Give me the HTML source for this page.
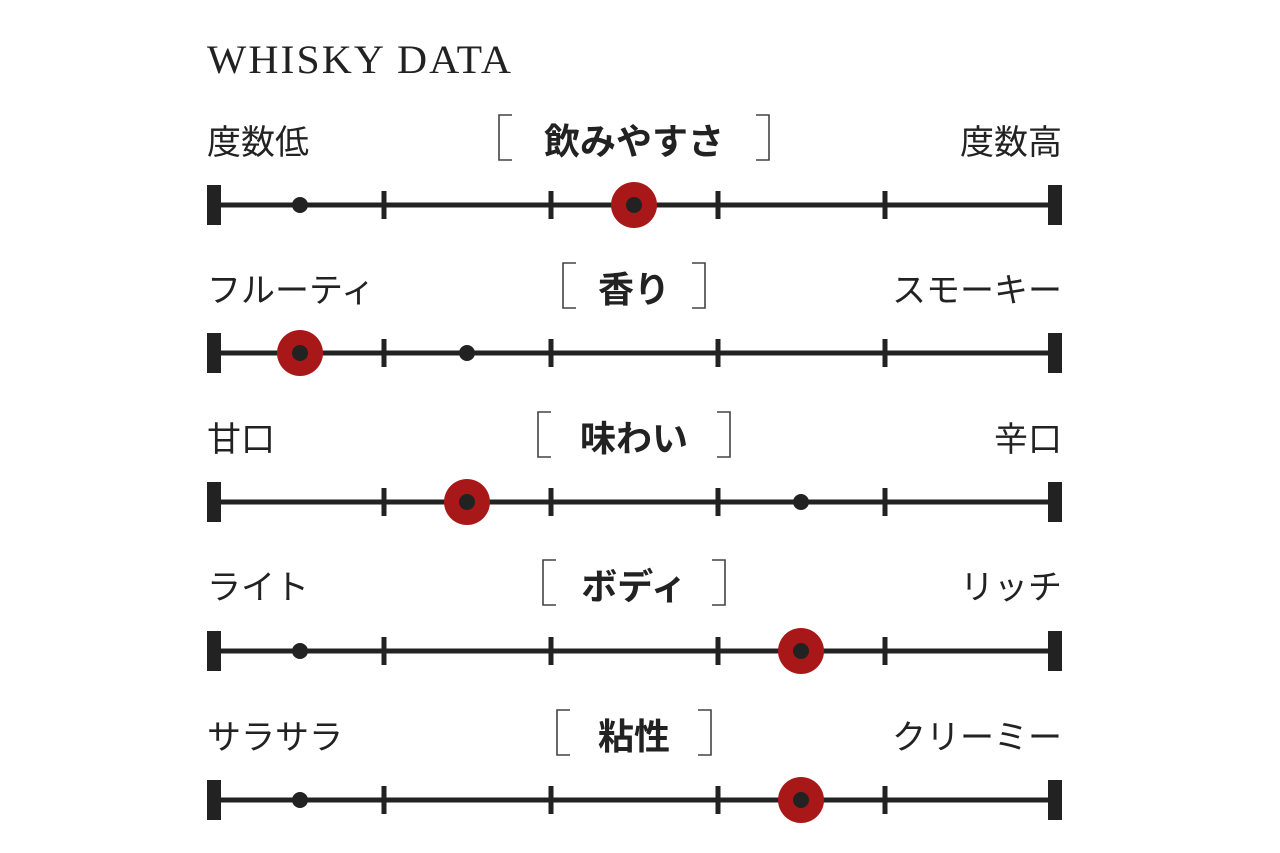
<!DOCTYPE html>
<html><head><meta charset="utf-8"><style>
html,body{margin:0;padding:0;background:#fff;}
svg{display:block}
text{font-family:"Liberation Sans","Noto Sans CJK JP",sans-serif;fill:#222}
</style></head><body>
<svg width="1280" height="853" viewBox="0 0 1280 853" xmlns="http://www.w3.org/2000/svg">
<text x="207" y="73" style="font-family:'Liberation Serif','Noto Serif CJK SC',serif;font-size:40px;letter-spacing:2px" fill="#222" textLength="306" lengthAdjust="spacingAndGlyphs">WHISKY DATA</text>
<g id="rows"></g>
</svg>
<script>
var rows=[
 {l:"度数低",r:"度数高",t:"飲みやすさ",ly:154,y:205,red:634,dot:300,bw:270},
 {l:"フルーティ",r:"スモーキー",t:"香り",ly:302,y:353,red:300,dot:467,bw:142},
 {l:"甘口",r:"辛口",t:"味わい",ly:451,y:502,red:467,dot:801,bw:192},
 {l:"ライト",r:"リッチ",t:"ボディ",ly:599,y:651,red:801,dot:300,bw:182},
 {l:"サラサラ",r:"クリーミー",t:"粘性",ly:749,y:800,red:801,dot:300,bw:154}
];
var s="";
rows.forEach(function(r){
 var c=634,y=r.y;
 s+='<text x="207" y="'+r.ly+'" font-size="34">'+r.l+'</text>';
 s+='<text x="1062" y="'+r.ly+'" font-size="34" text-anchor="end">'+r.r+'</text>';
 s+='<text x="'+c+'" y="'+r.ly+'" font-size="36" font-weight="bold" text-anchor="middle">'+r.t+'</text>';
 var bl=c-r.bw/2, br=c+r.bw/2, bt=r.ly-39, bb=r.ly+6;
 s+='<path d="M'+(bl+13)+' '+bt+' H'+bl+' V'+bb+' H'+(bl+13)+'" fill="none" stroke="#444" stroke-width="1.6"/>';
 s+='<path d="M'+(br-13)+' '+bt+' H'+br+' V'+bb+' H'+(br-13)+'" fill="none" stroke="#444" stroke-width="1.6"/>';
 s+='<rect x="207" y="'+(y-2.5)+'" width="855" height="5" fill="#222"/>';
 s+='<rect x="207" y="'+(y-20)+'" width="14" height="40" fill="#222"/>';
 s+='<rect x="1048" y="'+(y-20)+'" width="14" height="40" fill="#222"/>';
 [384,551,718,885].forEach(function(x){s+='<rect x="'+(x-2.5)+'" y="'+(y-14)+'" width="5" height="28" fill="#222"/>';});
 s+='<circle cx="'+r.dot+'" cy="'+y+'" r="8" fill="#222"/>';
 s+='<circle cx="'+r.red+'" cy="'+y+'" r="23" fill="#a81818"/>';
 s+='<circle cx="'+r.red+'" cy="'+y+'" r="8" fill="#222"/>';
});
document.getElementById("rows").innerHTML=s;
</script>
</body></html>
